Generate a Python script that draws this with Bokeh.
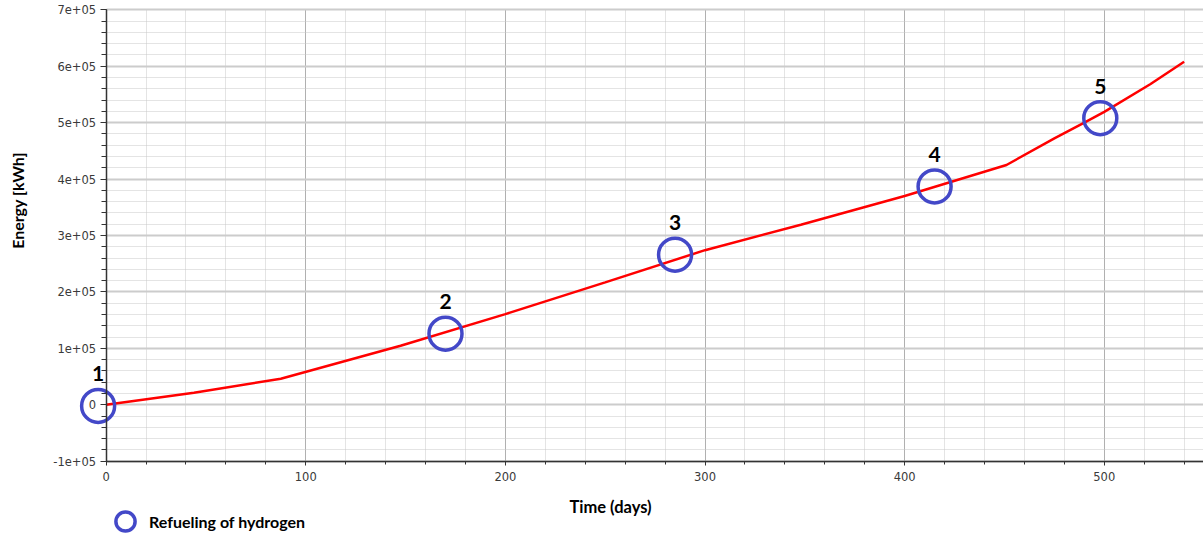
from math import pi

from bokeh.core.properties import value
from bokeh.embed import file_html
from bokeh.models import Label, Legend, LegendItem, Range1d, SingleIntervalTicker
from bokeh.plotting import figure
from bokeh.resources import INLINE

# Cumulative energy over time (days, kWh)
time_days = [0, 44, 87.5, 147.5, 200, 250, 300, 348, 400, 451, 475, 490, 500, 523, 540]
energy_kwh = [0, 21500, 46000, 104600, 160700, 217000, 274000, 319000, 370000,
              425000, 472000, 500000, 519000, 568000, 608000]

# Hydrogen refueling events
refuel_days = [-4, 170, 285, 415, 498]
refuel_energy = [-2000, 126000, 266000, 387000, 508000]
refuel_labels = ["1", "2", "3", "4", "5"]

# Y-axis tick labels in scientific notation
y_tick_values = [-100000, 0, 100000, 200000, 300000, 400000, 500000, 600000, 700000]
y_tick_labels = ["-1e+05", "0", "1e+05", "2e+05", "3e+05", "4e+05", "5e+05", "6e+05", "7e+05"]

# axis extents and the visible window around them
X_MIN, X_MAX = 0, 549.7
Y_MIN, Y_MAX = -100000, 700000
X_VIEW = (-52.9, 549.7)
Y_VIEW = (-236985, 716480)

BLUE = "#4348c8"
TICK_FONT = "DejaVu Sans"
TITLE_FONT = "Lato"

p = figure(
    width=1203, height=538,
    x_range=Range1d(*X_VIEW), y_range=Range1d(*Y_VIEW),
    output_backend="svg", toolbar_location=None,
    min_border_left=0, min_border_right=0, min_border_top=0, min_border_bottom=0,
)
p.outline_line_color = None
p.background_fill_color = "white"
p.border_fill_color = "white"

# axes cross at (0, -1e5); the frame covers the whole canvas
p.xaxis.ticker = SingleIntervalTicker(interval=100, num_minor_ticks=5)
p.yaxis.ticker = SingleIntervalTicker(interval=100000, num_minor_ticks=5)
p.xaxis.fixed_location = Y_MIN
p.yaxis.fixed_location = X_MIN
p.xaxis.bounds = (X_MIN, X_MAX)
p.yaxis.bounds = (Y_MIN, Y_MAX)
p.yaxis.major_label_overrides = dict(zip(y_tick_values, y_tick_labels))

for ax in (p.xaxis, p.yaxis):
    ax.axis_line_color = "#333333"
    ax.axis_line_width = 1.5
    ax.major_tick_line_color = "#333333"
    ax.minor_tick_line_color = "#333333"
    ax.major_tick_in = 0
    ax.minor_tick_in = 0
    ax.major_label_text_font = TICK_FONT
    ax.major_label_text_font_size = "11.5px"
    ax.major_label_text_color = "#3a3a3a"

p.xaxis.major_tick_out = 4
p.xaxis.minor_tick_out = 3
p.xaxis.major_label_standoff = 7
p.yaxis.major_tick_out = 6
p.yaxis.minor_tick_out = 5
p.yaxis.major_label_standoff = 4

# grids, limited to the axes box
p.xgrid.grid_line_color = "#b0b0b0"
p.xgrid.grid_line_width = 1
p.xgrid.minor_grid_line_color = "#c8c8c8"
p.xgrid.minor_grid_line_dash = "1 1"
p.xgrid.cross_bounds = (Y_MIN, Y_MAX)
p.ygrid.grid_line_color = "#cccccc"
p.ygrid.grid_line_width = 2
p.ygrid.minor_grid_line_color = "#c8c8c8"
p.ygrid.minor_grid_line_dash = "1 1"
p.ygrid.cross_bounds = (X_MIN, X_MAX)

# energy curve
p.line(time_days, energy_kwh, line_color="#ff0000", line_width=2.5)

# refueling markers and their numbers
refuel = p.scatter(refuel_days, refuel_energy, marker="circle", size=33,
                   fill_color=None, line_color=BLUE, line_width=3.5)
p.text(refuel_days, refuel_energy, text=refuel_labels, y_offset=-32,
       text_align="center", text_baseline="middle",
       text_font=value(TITLE_FONT), text_font_style="bold",
       text_font_size="21px", text_color="black")

# axis titles (screen offsets from the bottom-left corner)
p.add_layout(Label(x=610, y=31.5, x_units="screen", y_units="screen",
                   text="Time (days)", text_align="center", text_baseline="alphabetic",
                   text_font=TITLE_FONT, text_font_style="bold",
                   text_font_size="16.5px", text_color="black"))
p.add_layout(Label(x=16.5, y=338, x_units="screen", y_units="screen",
                   text="Energy [kWh]", angle=pi / 2, text_align="center",
                   text_baseline="middle", text_font=TITLE_FONT,
                   text_font_style="bold", text_font_size="16px", text_color="black"))

legend = Legend(
    items=[LegendItem(label="Refueling of hydrogen", renderers=[refuel])],
    location=(101, -7), margin=0, padding=0, spacing=0,
    glyph_width=48, glyph_height=48, label_standoff=0,
    border_line_color=None, background_fill_alpha=0,
    label_text_font=TITLE_FONT, label_text_font_style="bold",
    label_text_font_size="16px", label_text_color="black",
)
p.add_layout(legend, "center")

open("out.html", "w").write(file_html(p, INLINE))
